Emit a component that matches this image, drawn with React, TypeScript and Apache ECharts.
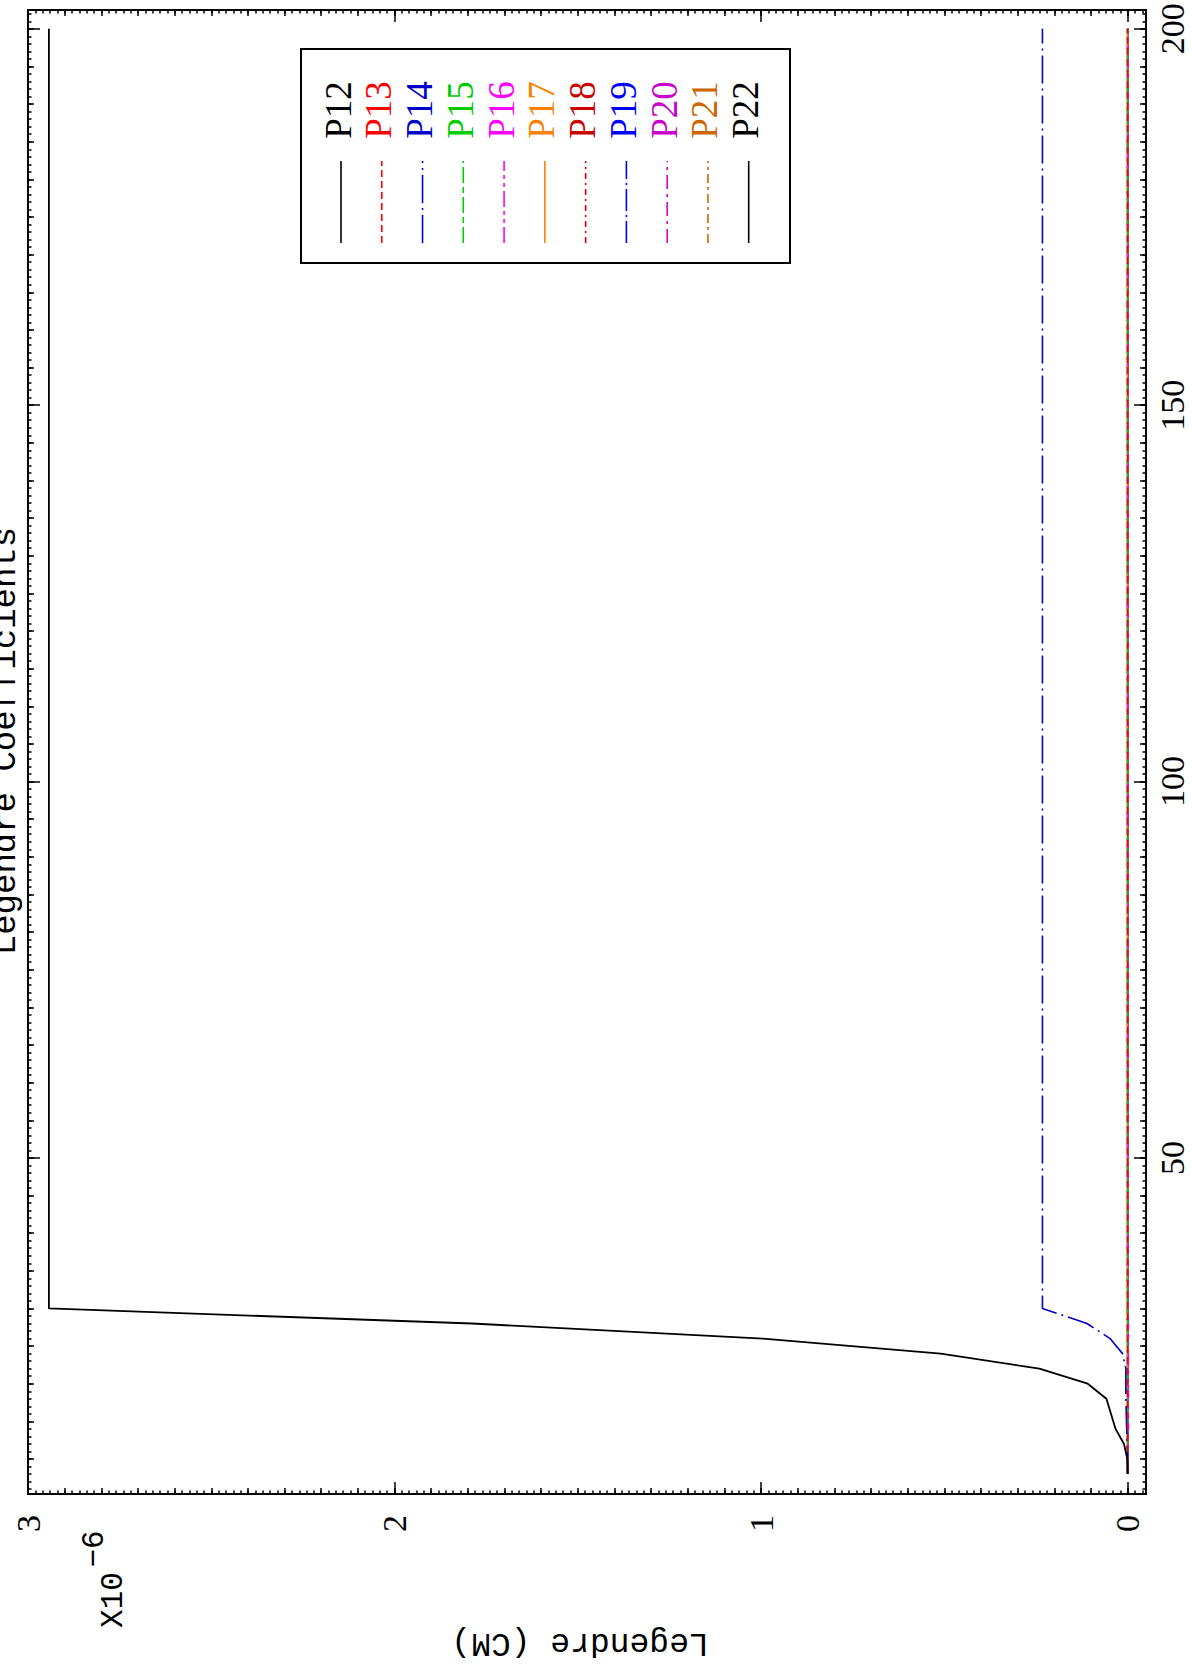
import React, { useEffect, useRef } from "react";
import * as echarts from "echarts";

// ---- data (coefficient values in units of 1e-6 cm) ----
const positions = [8, 10, 12, 14, 18, 20, 22, 24, 26, 28, 30, 200];
const p12 = [0, 0.001, 0.01, 0.033, 0.058, 0.109, 0.241, 0.51, 0.995, 1.789, 2.943, 2.943];
const p13 = [0, 0, 0, 0, 0, 0, 0, 0, 0, 0, 0, 0];
const p14 = [0, 0, 0.0014, 0.0027, 0.005, 0.005, 0.005, 0.014, 0.048, 0.111, 0.2325, 0.2325];
const p15 = [0, 0, 0, 0, 0, 0, 0, 0, 0, 0, 0, 0];
const p16 = [0, 0, -0.001, -0.002, -0.002, -0.002, -0.002, -0.002, -0.002, -0.002, -0.001, -0.001];
const p17 = [0, 0, 0, 0, 0, 0, 0, 0, 0, 0, 0, 0];
const p18 = [0, 0, 0, 0, 0, 0, 0, 0, 0, 0, 0, 0];
const p19 = [0, 0, 0, 0, 0, 0, 0, 0, 0, 0, 0, 0];
const p20 = [0, 0, 0, 0, 0, 0, 0, 0, 0, 0, 0, 0];
const p21 = [0, 0, 0, 0, 0, 0, 0, 0, 0, 0, 0, 0];
const p22 = [0, 0, 0, 0, 0, 0, 0, 0, 0, 0, 0, 0];

const seriesNames = ["P12", "P13", "P14", "P15", "P16", "P17", "P18", "P19", "P20", "P21", "P22"];
const seriesValues = [p12, p13, p14, p15, p16, p17, p18, p19, p20, p21, p22];

const valueTickLabels = [0, 1, 2, 3];
const positionTickLabels = [50, 100, 150, 200];

// ---- styles ----
const colors = ["#000000", "#ff0000", "#0000cc", "#00cc00", "#ff00ff", "#ff8000", "#cc0000", "#0000ff", "#cc00cc", "#cc6600", "#000000"];
const dashes: (number[] | "solid")[] = [
  "solid",
  [7, 4],
  [28, 5, 2, 5],
  [16, 4, 6, 4],
  [16, 4, 4, 4, 4, 4],
  "solid",
  [6, 4, 2, 4],
  [22, 4, 2, 4],
  [14, 5, 3, 5],
  [9, 4, 3, 4],
  "solid",
];

const VAL_MIN = -0.05;
const VAL_MAX = 3.0;
const POS_MIN = 5.35;
const POS_MAX = 202.5;

function steps(from: number, to: number, step: number): number[] {
  const out: number[] = [];
  const n = Math.round((to - from) / step);
  for (let i = 0; i <= n; i++) out.push(Math.round((from + i * step) * 1000) / 1000);
  return out;
}

const valMedium = steps(0, 3, 0.1);
const valMinor = steps(-0.04, 3, 0.02);
const posMedium = steps(10, 200, 5);
const posMinor = steps(6, 202, 1);

const SERIF = "'Liberation Serif', 'DejaVu Serif', serif";
const MONO = "'Liberation Mono', 'DejaVu Sans Mono', monospace";

function xAxisDef(position: "top" | "bottom", ticks: number[], len: number, labels: boolean) {
  return {
    type: "value",
    inverse: true,
    min: VAL_MIN,
    max: VAL_MAX,
    position,
    splitLine: { show: false },
    axisLine: { show: true, onZero: false, lineStyle: { color: "#000", width: 2 } },
    axisTick: { show: true, inside: true, length: len, customValues: ticks, lineStyle: { color: "#000", width: 1.5 } },
    axisLabel: labels
      ? {
          show: true,
          customValues: valueTickLabels,
          rotate: 90,
          align: "right",
          verticalAlign: "middle",
          margin: 21,
          color: "#000",
          fontFamily: SERIF,
          fontSize: 34,
          formatter: (v: number) => String(v),
        }
      : { show: false },
  };
}

function yAxisDef(position: "left" | "right", ticks: number[], len: number, labels: boolean) {
  return {
    type: "value",
    min: POS_MIN,
    max: POS_MAX,
    position,
    splitLine: { show: false },
    axisLine: { show: true, onZero: false, lineStyle: { color: "#000", width: 2 } },
    axisTick: { show: true, inside: true, length: len, customValues: ticks, lineStyle: { color: "#000", width: 1.5 } },
    axisLabel: labels
      ? {
          show: true,
          customValues: positionTickLabels,
          rotate: 90,
          align: "center",
          verticalAlign: "top",
          margin: 9,
          color: "#000",
          fontFamily: SERIF,
          fontSize: 34,
          formatter: (v: number) => String(v),
        }
      : { show: false },
  };
}

export default function App() {
  const ref = useRef<HTMLDivElement>(null);

  useEffect(() => {
    if (!ref.current) return;
    const chart = echarts.init(ref.current, null, { renderer: "svg" });

    const series = seriesNames
      .map((name, i) => ({
        name,
        type: "line",
        xAxisIndex: 0,
        yAxisIndex: 0,
        symbol: "none",
        silent: true,
        data: seriesValues[i].map((v, j) => [v, positions[j]]),
        lineStyle: { color: colors[i], width: i === 0 ? 1.8 : 1.6, type: dashes[i] },
        z: 20 - i,
      }))
      .reverse();

    // Legend drawn as graphic elements (vertical text + vertical line sample)
    const legendEls: any[] = [
      {
        type: "rect",
        shape: { x: 301, y: 49, width: 489, height: 214 },
        style: { fill: "#fff", stroke: "#000", lineWidth: 2 },
        z: 50,
      },
    ];
    seriesNames.forEach((name, i) => {
      const cx = 341 + i * 40.77;
      legendEls.push({
        type: "text",
        x: cx - 3,
        y: 110,
        rotation: Math.PI / 2,
        style: {
          text: name,
          fill: colors[i],
          fontFamily: SERIF,
          fontSize: 37,
          align: "center",
          verticalAlign: "middle",
        },
        z: 51,
      });
      const d = dashes[i];
      legendEls.push({
        type: "line",
        shape: { x1: cx, y1: 243, x2: cx, y2: 161 },
        style: { stroke: colors[i], lineWidth: 1.6, lineDash: d === "solid" ? null : d },
        z: 51,
      });
    });

    const option: any = {
      animation: false,
      backgroundColor: "#fff",
      grid: { left: 28, top: 10, right: 46, bottom: 173, containLabel: false, outerBoundsMode: "none" },
      xAxis: [
        xAxisDef("bottom", valueTickLabels, 12, true),
        xAxisDef("bottom", valMedium, 6, false),
        xAxisDef("bottom", valMinor, 3.5, false),
        xAxisDef("top", valueTickLabels, 12, false),
        xAxisDef("top", valMedium, 6, false),
        xAxisDef("top", valMinor, 3.5, false),
      ],
      yAxis: [
        yAxisDef("right", positionTickLabels, 12, true),
        yAxisDef("right", posMedium, 6, false),
        yAxisDef("right", posMinor, 3.5, false),
        yAxisDef("left", positionTickLabels, 12, false),
        yAxisDef("left", posMedium, 6, false),
        yAxisDef("left", posMinor, 3.5, false),
      ],
      series,
      graphic: [
        {
          type: "text",
          x: 6,
          y: 741,
          rotation: Math.PI / 2,
          style: {
            text: "Legendre Coefficients",
            fill: "#000",
            fontFamily: MONO,
            fontSize: 34,
            align: "center",
            verticalAlign: "middle",
          },
        },
        {
          type: "text",
          x: 580,
          y: 1642,
          rotation: Math.PI,
          style: {
            text: "Legendre (CM)",
            fill: "#000",
            fontFamily: MONO,
            fontSize: 33,
            align: "center",
            verticalAlign: "middle",
          },
        },
        {
          type: "text",
          x: 113,
          y: 1600,
          rotation: Math.PI / 2,
          style: {
            text: "X10",
            fill: "#000",
            fontFamily: MONO,
            fontSize: 31,
            align: "center",
            verticalAlign: "middle",
          },
        },
        {
          type: "text",
          x: 94,
          y: 1549,
          rotation: Math.PI / 2,
          style: {
            text: "\u22126",
            fill: "#000",
            fontFamily: MONO,
            fontSize: 31,
            align: "center",
            verticalAlign: "middle",
          },
        },
        ...legendEls,
      ],
    };

    chart.setOption(option);
    return () => chart.dispose();
  }, []);

  return (
    <div
      ref={ref}
      style={{ position: "absolute", left: 0, top: 0, width: 1192, height: 1667, background: "#fff" }}
    />
  );
}
